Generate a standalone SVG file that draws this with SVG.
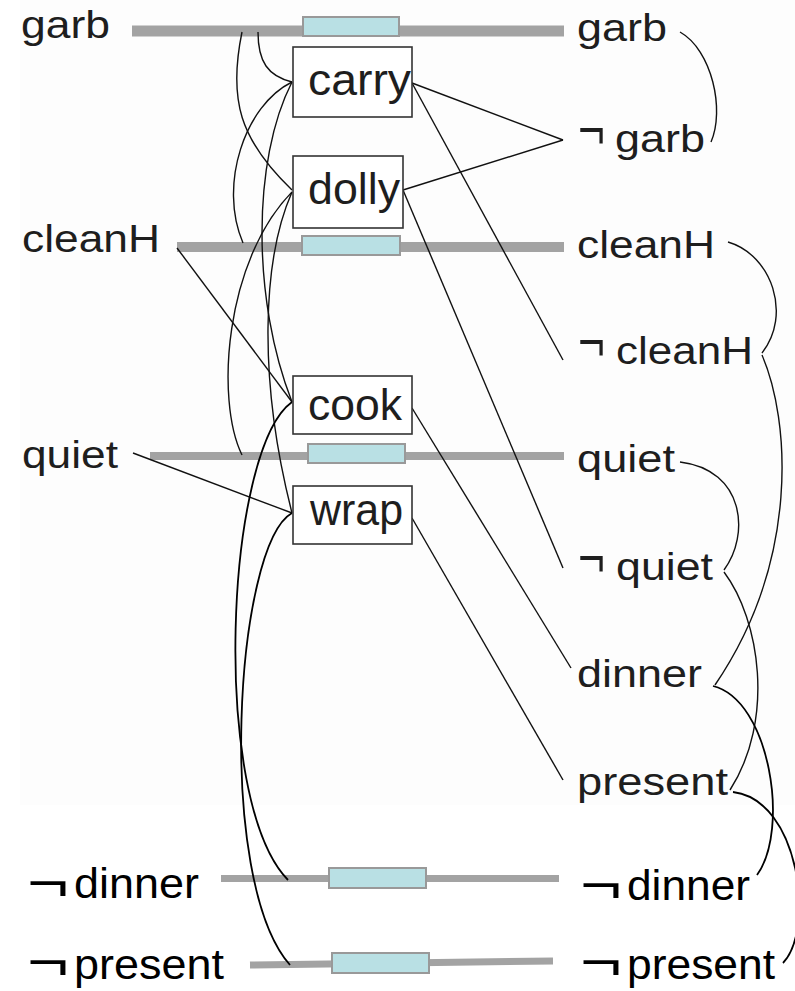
<svg xmlns="http://www.w3.org/2000/svg" width="795" height="991" viewBox="0 0 795 991">
<style>
text{font-family:"Liberation Sans",Arial,sans-serif;}
.lbl{font-size:38px;fill:#1e1e1e;}
.lbl2{font-size:42px;fill:#000;}
.act{font-size:44px;fill:#1e1e1e;}
.neg{font-size:56px;}
.negb{font-size:52px;}
.bar{stroke:#a3a3a3;fill:none;}
.noop{fill:#b9e0e4;stroke:#999;stroke-width:2;}
.box{fill:#fff;stroke:#333;stroke-width:1.6;}
.arc{fill:none;stroke:#111;stroke-width:1.4;}
.arc2{fill:none;stroke:#000;stroke-width:1.8;}
</style>
<rect x="0" y="0" width="795" height="991" fill="#fff"/>
<rect x="20" y="0" width="775" height="805" fill="#fdfdfd"/>

<g id="p-garb-L"><text class="lbl" x="21" y="38" textLength="89" lengthAdjust="spacingAndGlyphs">garb</text></g>
<g id="p-cleanH-L"><text class="lbl" x="22" y="252" textLength="138" lengthAdjust="spacingAndGlyphs">cleanH</text></g>
<g id="p-quiet-L"><text class="lbl" x="22" y="468" textLength="96" lengthAdjust="spacingAndGlyphs">quiet</text></g>
<g id="p-ndinner-L"><text class="lbl2" x="27" y="898"><tspan class="negb" x="27" y="900" textLength="42" lengthAdjust="spacingAndGlyphs">¬</tspan><tspan x="74" y="898" textLength="125" lengthAdjust="spacingAndGlyphs">dinner</tspan></text></g>
<g id="p-npresent-L"><text class="lbl2" x="27" y="979"><tspan class="negb" x="27" y="979" textLength="42" lengthAdjust="spacingAndGlyphs">¬</tspan><tspan x="74" y="979" textLength="150" lengthAdjust="spacingAndGlyphs">present</tspan></text></g>

<g id="noop-garb"><line class="bar" x1="132" y1="31" x2="564" y2="31" stroke-width="11"/><rect class="noop" x="303" y="17" width="96" height="19"/></g>
<g id="noop-cleanH"><line class="bar" x1="177" y1="247" x2="564" y2="247" stroke-width="10"/><rect class="noop" x="302" y="236" width="98" height="19"/></g>
<g id="noop-quiet"><line class="bar" x1="150" y1="456" x2="564" y2="456" stroke-width="8"/><rect class="noop" x="308" y="444" width="97" height="19"/></g>
<g id="noop-ndinner"><line class="bar" x1="221" y1="878.5" x2="559" y2="878.5" stroke-width="7"/><rect class="noop" x="329" y="868" width="97" height="20"/></g>
<g id="noop-npresent"><line class="bar" x1="250" y1="965" x2="553" y2="961" stroke-width="7"/><rect class="noop" x="332" y="953" width="97" height="20"/></g>

<g id="connectors">
<path class="arc" d="M258,32 C258,62 268,76 292,82"/>
<path class="arc" d="M242,32 C228,100 240,140 292,190"/>
<path class="arc" d="M292,82 C245,105 218,185 243,243"/>
<path class="arc" d="M292,192 C225,260 215,400 242,455"/>
<path class="arc" d="M292,82 C252,160 252,300 292,402"/>
<path class="arc" d="M292,192 C262,260 258,380 292,513"/>
<path class="arc" d="M177,248 L292,402"/>
<path class="arc" d="M133,453 L292,513"/>
<path class="arc2" d="M292,402 C225,450 210,800 288,880"/>
<path class="arc2" d="M292,513 C235,545 215,880 290,965"/>
<path class="arc" d="M412,83 L563,140"/>
<path class="arc" d="M403,190 L563,140"/>
<path class="arc" d="M412,83 L563,360"/>
<path class="arc" d="M403,190 L563,568"/>
<path class="arc" d="M412,408 L571,668"/>
<path class="arc" d="M412,518 L563,780"/>
<path class="arc" d="M680,32 C712,50 725,110 711,142"/>
<path class="arc" d="M728,242 C772,255 792,315 762,353"/>
<path class="arc" d="M762,355 C790,420 800,560 715,685"/>
<path class="arc" d="M680,462 C745,470 750,535 724,570"/>
<path class="arc" d="M724,572 C760,620 775,720 730,790"/>
<path class="arc2" d="M713,686 C770,700 790,830 757,875"/>
<path class="arc2" d="M733,792 C800,800 815,930 783,963"/>
</g>

<g id="a-carry"><rect class="box" x="293" y="47" width="119" height="70"/><text class="act" x="308" y="95" textLength="103" lengthAdjust="spacingAndGlyphs">carry</text></g>
<g id="a-dolly"><rect class="box" x="293" y="156" width="110" height="72"/><text class="act" x="308" y="204" textLength="92" lengthAdjust="spacingAndGlyphs">dolly</text></g>
<g id="a-cook"><rect class="box" x="293" y="376" width="119" height="58"/><text class="act" x="308" y="420" textLength="94" lengthAdjust="spacingAndGlyphs">cook</text></g>
<g id="a-wrap"><rect class="box" x="293" y="486" width="119" height="58"/><text class="act" x="310" y="525" textLength="93" lengthAdjust="spacingAndGlyphs">wrap</text></g>

<g id="p-garb-R"><text class="lbl" x="577" y="41" textLength="90" lengthAdjust="spacingAndGlyphs">garb</text></g>
<g id="p-ngarb-R"><text class="lbl" x="578" y="152"><tspan class="neg" x="578" y="149" textLength="27" lengthAdjust="spacingAndGlyphs">¬</tspan><tspan x="615" y="152" textLength="90" lengthAdjust="spacingAndGlyphs">garb</tspan></text></g>
<g id="p-cleanH-R"><text class="lbl" x="577" y="258" textLength="138" lengthAdjust="spacingAndGlyphs">cleanH</text></g>
<g id="p-ncleanH-R"><text class="lbl" x="578" y="364"><tspan class="neg" x="578" y="361" textLength="27" lengthAdjust="spacingAndGlyphs">¬</tspan><tspan x="616" y="364" textLength="137" lengthAdjust="spacingAndGlyphs">cleanH</tspan></text></g>
<g id="p-quiet-R"><text class="lbl" x="577" y="472" textLength="98" lengthAdjust="spacingAndGlyphs">quiet</text></g>
<g id="p-nquiet-R"><text class="lbl" x="578" y="580"><tspan class="neg" x="578" y="577" textLength="27" lengthAdjust="spacingAndGlyphs">¬</tspan><tspan x="616" y="580" textLength="97" lengthAdjust="spacingAndGlyphs">quiet</tspan></text></g>
<g id="p-dinner-R"><text class="lbl" x="577" y="687" textLength="125" lengthAdjust="spacingAndGlyphs">dinner</text></g>
<g id="p-present-R"><text class="lbl" x="577" y="795" textLength="151" lengthAdjust="spacingAndGlyphs">present</text></g>
<g id="p-ndinner-R"><text class="lbl2" x="580" y="900"><tspan class="negb" x="580" y="902" textLength="42" lengthAdjust="spacingAndGlyphs">¬</tspan><tspan x="627" y="900" textLength="123" lengthAdjust="spacingAndGlyphs">dinner</tspan></text></g>
<g id="p-npresent-R"><text class="lbl2" x="580" y="979"><tspan class="negb" x="580" y="979" textLength="42" lengthAdjust="spacingAndGlyphs">¬</tspan><tspan x="627" y="979" textLength="148" lengthAdjust="spacingAndGlyphs">present</tspan></text></g>
</svg>
